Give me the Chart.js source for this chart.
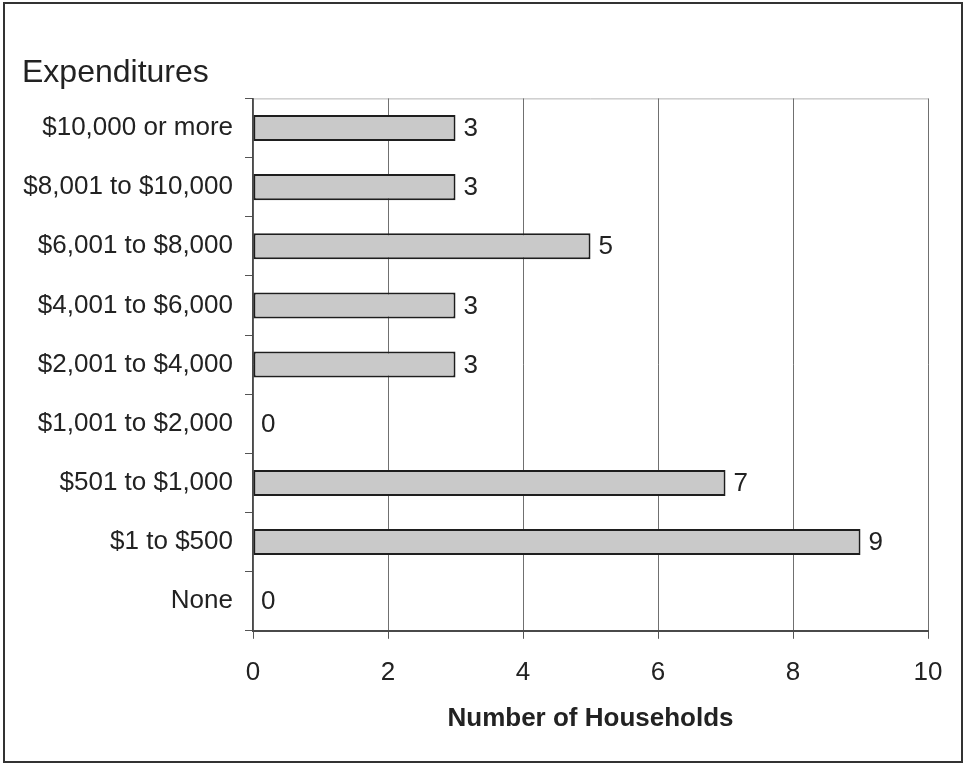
<!DOCTYPE html>
<html>
<head>
<meta charset="utf-8">
<script src="https://cdn.jsdelivr.net/npm/chart.js@4.4.0/dist/chart.umd.min.js"></script>
<style>
    html, body { margin: 0; padding: 0; background: #fff; }
    #wrap { width: 966px; height: 765px; position: relative; }
</style>
</head>
<body>
<div id="wrap"><canvas id="expChart" width="966" height="765"></canvas></div>
<script>
const categories = [
    '$10,000 or more',
    '$8,001 to $10,000',
    '$6,001 to $8,000',
    '$4,001 to $6,000',
    '$2,001 to $4,000',
    '$1,001 to $2,000',
    '$501 to $1,000',
    '$1 to $500',
    'None'
];
const households = [3, 3, 5, 3, 3, 0, 7, 9, 0];
const xTicks = [0, 2, 4, 6, 8, 10];

const FONT = "'Liberation Sans', Arial, sans-serif";

// outer frame + light top edge of the plot area
const framePlugin = {
    id: 'frame',
    beforeDraw(chart) {
        const ctx = chart.ctx;
        ctx.save();
        ctx.fillStyle = '#fff';
        ctx.fillRect(0, 0, chart.width, chart.height);
        ctx.strokeStyle = '#333';
        ctx.lineWidth = 2;
        ctx.strokeRect(4, 3, chart.width - 8, chart.height - 6);
        const a = chart.chartArea;
        ctx.strokeStyle = '#b5b5b5';
        ctx.lineWidth = 1;
        ctx.beginPath();
        ctx.moveTo(a.left, a.top + 0.5);
        ctx.lineTo(a.right, a.top + 0.5);
        ctx.stroke();
        ctx.restore();
    }
};

// value labels at the end of each bar
const valueLabels = {
    id: 'valueLabels',
    afterDatasetsDraw(chart) {
        const ctx = chart.ctx;
        const meta = chart.getDatasetMeta(0);
        ctx.save();
        ctx.font = '26px ' + FONT;
        ctx.fillStyle = '#222';
        ctx.textAlign = 'left';
        ctx.textBaseline = 'middle';
        meta.data.forEach((bar, i) => {
            ctx.fillText(String(households[i]), bar.x + 8, bar.y + 1);
        });
        ctx.restore();
    }
};

new Chart(document.getElementById('expChart'), {
    type: 'bar',
    data: {
        labels: categories,
        datasets: [{
            data: households,
            backgroundColor: '#c9c9c9',
            borderColor: '#1e1e1e',
            borderWidth: 2,
            borderSkipped: false,
            categoryPercentage: 1,
            barPercentage: 0.44
        }]
    },
    options: {
        indexAxis: 'y',
        responsive: false,
        animation: false,
        layout: {
            padding: { left: 22, right: 38, top: 0, bottom: 33 }
        },
        plugins: {
            legend: { display: false },
            tooltip: { enabled: false },
            title: {
                display: true,
                text: 'Expenditures',
                align: 'start',
                color: '#222',
                font: { family: FONT, size: 32, weight: 'normal', lineHeight: 1.2 },
                padding: { top: 54, bottom: 6 }
            }
        },
        scales: {
            x: {
                min: 0,
                max: 10,
                afterBuildTicks: (scale) => {
                    scale.ticks = xTicks.map(v => ({ value: v }));
                },
                grid: {
                    color: '#707070',
                    lineWidth: 1,
                    drawTicks: true,
                    tickLength: 8,
                    tickColor: '#555'
                },
                border: { display: true, color: '#4a4a4a', width: 2 },
                ticks: {
                    color: '#222',
                    padding: 18,
                    font: { family: FONT, size: 26, lineHeight: 1.2 }
                },
                title: {
                    display: true,
                    text: 'Number of Households',
                    color: '#222',
                    font: { family: FONT, size: 26, weight: 'bold', lineHeight: 1.0 },
                    padding: { top: 0, bottom: 0 }
                }
            },
            y: {
                afterFit: (scale) => { scale.width = 231; },
                grid: {
                    offset: true,
                    drawOnChartArea: false,
                    drawTicks: true,
                    tickLength: 8,
                    tickColor: '#555'
                },
                border: { display: true, color: '#4a4a4a', width: 1.5 },
                ticks: {
                    color: '#222',
                    padding: 12,
                    font: { family: FONT, size: 26, lineHeight: 1.2 }
                }
            }
        }
    },
    plugins: [framePlugin, valueLabels]
});
</script>
</body>
</html>
